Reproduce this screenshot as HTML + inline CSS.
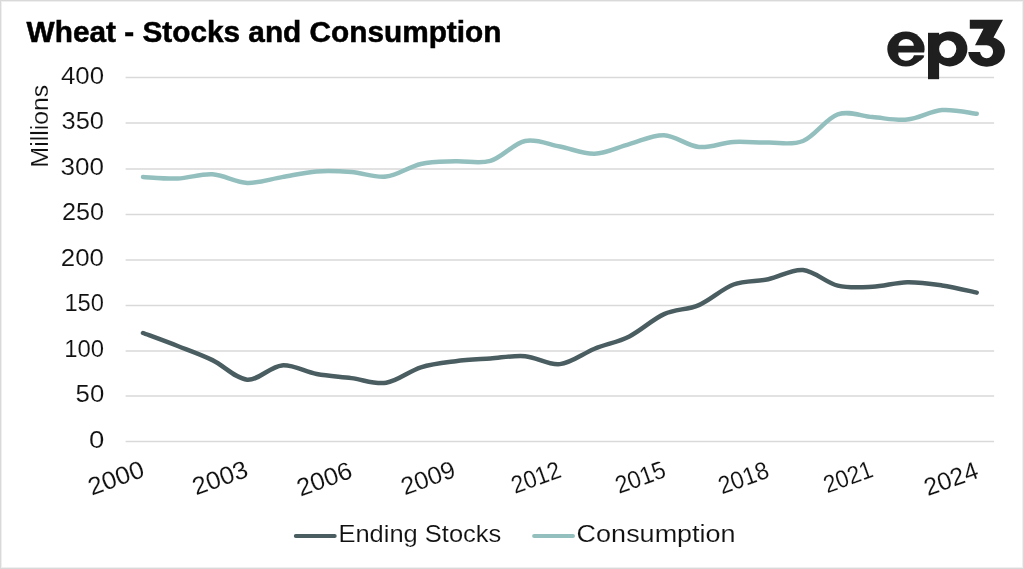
<!DOCTYPE html>
<html><head><meta charset="utf-8"><style>
html,body{margin:0;padding:0;background:#fff;}
svg{display:block;will-change:transform;}
.t{font-family:"Liberation Sans", sans-serif;font-size:24.8px;fill:#111;stroke:#fff;stroke-width:0.12px;}
.lg{font-size:24px;}
.title{font-family:"Liberation Sans", sans-serif;font-weight:bold;font-size:28.6px;fill:#000;stroke:#000;stroke-width:0.5px;}
</style></head><body>
<svg width="1024" height="569" viewBox="0 0 1024 569">
<rect x="0.5" y="0.5" width="1023" height="568" fill="#fff" stroke="#d9d9d9" stroke-width="1"/>
<rect x="1.5" y="1.5" width="1021" height="566" fill="none" stroke="#efefef" stroke-width="1"/>
<line x1="125.6" y1="441.50" x2="994.1" y2="441.50" stroke="#d9d9d9" stroke-width="1.4"/>
<line x1="125.6" y1="396.00" x2="994.1" y2="396.00" stroke="#d9d9d9" stroke-width="1.4"/>
<line x1="125.6" y1="351.00" x2="994.1" y2="351.00" stroke="#d9d9d9" stroke-width="1.4"/>
<line x1="125.6" y1="305.50" x2="994.1" y2="305.50" stroke="#d9d9d9" stroke-width="1.4"/>
<line x1="125.6" y1="260.00" x2="994.1" y2="260.00" stroke="#d9d9d9" stroke-width="1.4"/>
<line x1="125.6" y1="214.50" x2="994.1" y2="214.50" stroke="#d9d9d9" stroke-width="1.4"/>
<line x1="125.6" y1="169.00" x2="994.1" y2="169.00" stroke="#d9d9d9" stroke-width="1.4"/>
<line x1="125.6" y1="123.00" x2="994.1" y2="123.00" stroke="#d9d9d9" stroke-width="1.4"/>
<line x1="125.6" y1="77.50" x2="994.1" y2="77.50" stroke="#d9d9d9" stroke-width="1.4"/>
<path d="M142.97 176.98 C148.76 177.24 166.13 178.97 177.71 178.53 C189.29 178.09 200.87 173.61 212.45 174.33 C224.03 175.06 235.61 182.41 247.19 182.88 C258.77 183.34 270.35 179.03 281.93 177.13 C293.51 175.22 305.09 172.29 316.67 171.44 C328.25 170.59 339.83 171.16 351.41 172.01 C362.99 172.87 374.57 177.91 386.15 176.56 C397.73 175.22 409.31 166.48 420.89 163.93 C432.47 161.38 444.05 161.77 455.63 161.27 C467.21 160.77 478.79 164.33 490.37 160.95 C501.95 157.57 513.53 143.41 525.11 141.00 C536.69 138.59 548.27 144.38 559.85 146.50 C571.43 148.62 583.01 154.14 594.59 153.73 C606.17 153.32 617.75 147.14 629.33 144.06 C640.91 140.97 652.49 134.73 664.07 135.22 C675.65 135.71 687.23 145.90 698.81 147.01 C710.39 148.13 721.97 142.63 733.55 141.89 C745.13 141.15 756.71 142.73 768.29 142.57 C779.87 142.42 791.45 145.67 803.03 140.97 C814.61 136.26 826.19 118.31 837.77 114.33 C849.35 110.35 860.93 116.20 872.51 117.08 C884.09 117.95 895.67 120.77 907.25 119.60 C918.83 118.44 930.41 111.06 941.99 110.08 C953.57 109.10 970.94 113.12 976.73 113.73" fill="none" stroke="#93c0be" stroke-width="4.5" stroke-linecap="round" stroke-linejoin="round"/>
<path d="M142.97 332.99 C148.76 335.16 166.13 341.49 177.71 346.01 C189.29 350.53 200.87 354.50 212.45 360.11 C224.03 365.72 235.61 378.77 247.19 379.66 C258.77 380.54 270.35 366.35 281.93 365.42 C293.51 364.49 305.09 371.96 316.67 374.08 C328.25 376.20 339.83 376.68 351.41 378.14 C362.99 379.59 374.57 384.60 386.15 382.81 C397.73 381.01 409.31 370.98 420.89 367.38 C432.47 363.78 444.05 362.69 455.63 361.20 C467.21 359.71 478.79 359.27 490.37 358.43 C501.95 357.59 513.53 355.21 525.11 356.16 C536.69 357.11 548.27 365.36 559.85 364.12 C571.43 362.88 583.01 353.35 594.59 348.73 C606.17 344.11 617.75 342.17 629.33 336.40 C640.91 330.63 652.49 319.34 664.07 314.12 C675.65 308.89 687.23 309.99 698.81 305.06 C710.39 300.12 721.97 288.82 733.55 284.51 C745.13 280.21 756.71 281.67 768.29 279.25 C779.87 276.83 791.45 268.95 803.03 270.01 C814.61 271.07 826.19 282.82 837.77 285.62 C849.35 288.41 860.93 287.36 872.51 286.78 C884.09 286.20 895.67 282.37 907.25 282.15 C918.83 281.93 930.41 283.71 941.99 285.45 C953.57 287.19 970.94 291.41 976.73 292.61" fill="none" stroke="#4a5d61" stroke-width="4.5" stroke-linecap="round" stroke-linejoin="round"/>
<line x1="295.8" y1="536.1" x2="334.7" y2="536.1" stroke="#4a5d61" stroke-width="4" stroke-linecap="round"/>
<line x1="534.1" y1="536.1" x2="573" y2="536.1" stroke="#93c0be" stroke-width="4" stroke-linecap="round"/>
<ellipse cx="905.95" cy="49" rx="18.65" ry="17.5" fill="#1f1f1f"/>
<path d="M898.4 45.7 A7.75 6.6 0 0 1 913.9 45.7 Z" fill="#fff"/>
<path d="M898.4 52.4 L930 52.4 L930 55.5 L913.9 55.5 A7.75 6.5 0 0 1 898.4 52.4 Z" fill="#fff"/>
<path d="M913.9 55.5 L924.3 55.5 L923.6 57.6 L920.6 60.6 L915 60.6 Z" fill="#1f1f1f"/>
<rect x="928" y="32.8" width="11.1" height="46.4" fill="#1f1f1f"/>
<ellipse cx="949.7" cy="48.9" rx="17.7" ry="17.5" fill="#1f1f1f"/>
<ellipse cx="947.7" cy="49.1" rx="8.6" ry="8.95" fill="#fff"/>
<path d="M969.8 19.8 L1003 19.8 L993.5 37.4 A18.3 15.2 0 1 1 968.3 52 L980.1 52 A6.5 6.5 0 1 0 986.6 45.2 L975 45.2 L983.5 28.8 L969.8 28.8 Z" fill="#1f1f1f"/>
<text transform="translate(104.00 83.95) scale(1.0414 1)" text-anchor="end" class="t">400</text>
<text transform="translate(104.00 128.95) scale(1.0256 1)" text-anchor="end" class="t">350</text>
<text transform="translate(104.00 175.00) scale(1.0499 1)" text-anchor="end" class="t">300</text>
<text transform="translate(104.00 219.70) scale(1.0169 1)" text-anchor="end" class="t">250</text>
<text transform="translate(104.00 265.80) scale(1.0425 1)" text-anchor="end" class="t">200</text>
<text transform="translate(104.00 311.10) scale(0.9568 1)" text-anchor="end" class="t">150</text>
<text transform="translate(104.00 357.10) scale(0.9632 1)" text-anchor="end" class="t">100</text>
<text transform="translate(104.20 402.00) scale(1.0373 1)" text-anchor="end" class="t">50</text>
<text transform="translate(104.20 448.45) scale(1.1103 1)" text-anchor="end" class="t">0</text>
<text transform="translate(145.97 475.95) rotate(-20) scale(1.0463 1)" text-anchor="end" class="t">2000</text>
<text transform="translate(249.79 476.05) rotate(-20) scale(1.0368 1)" text-anchor="end" class="t">2003</text>
<text transform="translate(353.91 477.20) rotate(-20) scale(1.0311 1)" text-anchor="end" class="t">2006</text>
<text transform="translate(457.23 476.30) rotate(-20) scale(1.0133 1)" text-anchor="end" class="t">2009</text>
<text transform="translate(562.55 476.65) rotate(-20) scale(0.9155 1)" text-anchor="end" class="t">2012</text>
<text transform="translate(667.47 476.40) rotate(-20) scale(0.9377 1)" text-anchor="end" class="t">2015</text>
<text transform="translate(770.59 476.90) rotate(-20) scale(0.9387 1)" text-anchor="end" class="t">2018</text>
<text transform="translate(874.51 476.20) rotate(-20) scale(0.9120 1)" text-anchor="end" class="t">2021</text>
<text transform="translate(979.93 477.20) rotate(-20) scale(1.0064 1)" text-anchor="end" class="t">2024</text>
<text transform="translate(48.40 167.41) rotate(-90) scale(0.9990 1)" class="t">Millions</text>
<text transform="translate(338.44 541.90) scale(1.0617 1)" class="t lg">Ending Stocks</text>
<text transform="translate(576.62 541.90) scale(1.1250 1)" class="t lg">Consumption</text>
<text transform="translate(26.60 42.00) scale(1.0419 1)" class="title">Wheat - Stocks and Consumption</text>
</svg>
</body></html>
